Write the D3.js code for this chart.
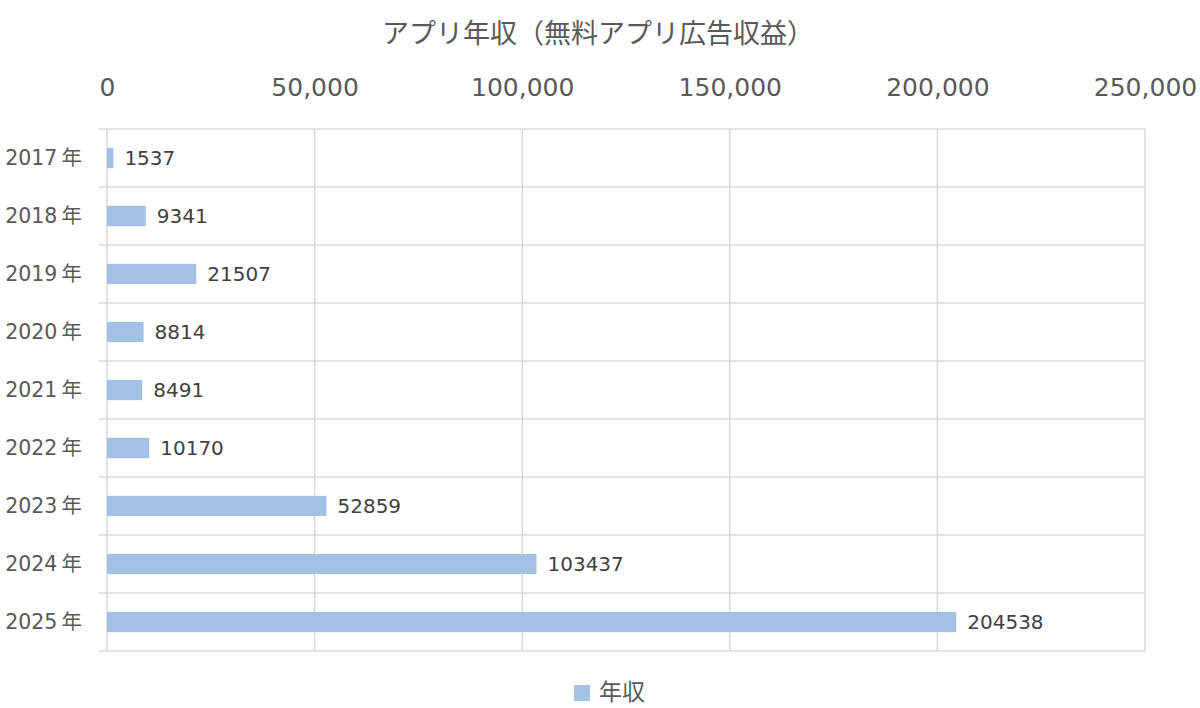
<!DOCTYPE html>
<html>
<head>
<meta charset="utf-8">
<script src="https://cdn.jsdelivr.net/npm/d3@7"></script>
<style>
  body { margin: 0; background: #fff; }
  text { font-family: "DejaVu Sans", "Noto Sans CJK JP", sans-serif; }
</style>
</head>
<body>
<svg id="svg"></svg>
<script>
'use strict';

// ================================= data ======================================
var years = ["2017年", "2018年", "2019年", "2020年", "2021年", "2022年", "2023年", "2024年", "2025年"];
var income = [1537, 9341, 21507, 8814, 8491, 10170, 52859, 103437, 204538];
var xTicks = [0, 50000, 100000, 150000, 200000, 250000];
var chartTitle = "アプリ年収（無料アプリ広告収益）";
var seriesName = "年収";

// ================================= layout ======================================
var width = 1200;
var height = 708;
var plot = { left: 107, right: 1145, top: 129, bottom: 651 };
var barColor = "#a3c1e4";
var gridColor = "#d9d9d9";

var svg = d3.select("#svg")
    .attr("width", width)
    .attr("height", height);

var x = d3.scaleLinear()
    .domain([0, 250000])
    .range([plot.left, plot.right]);

var y = d3.scaleBand()
    .domain(years)
    .range([plot.top, plot.bottom])
    .paddingInner(0.65)
    .paddingOuter(0.325);

// title
svg.append("text")
    .attr("x", 598)
    .attr("y", 43)
    .attr("text-anchor", "middle")
    .attr("fill", "#595959")
    .style("font-family", "'Noto Sans CJK JP', sans-serif")
    .style("font-size", "27px")
    .text(chartTitle);

// vertical grid
svg.append("g")
    .selectAll("line")
    .data(xTicks)
    .join("line")
    .attr("x1", d => x(d))
    .attr("x2", d => x(d))
    .attr("y1", plot.top)
    .attr("y2", plot.bottom)
    .attr("stroke", gridColor)
    .attr("stroke-width", 1.5);

// horizontal separators between categories (with small outside ticks)
var seps = d3.range(years.length + 1).map(i => plot.top + i * (plot.bottom - plot.top) / years.length);
svg.append("g")
    .selectAll("line")
    .data(seps)
    .join("line")
    .attr("x1", plot.left - 8)
    .attr("x2", plot.right)
    .attr("y1", d => d)
    .attr("y2", d => d)
    .attr("stroke", gridColor)
    .attr("stroke-width", 1.5);

// top axis labels
var xAxis = d3.axisTop(x)
    .tickValues(xTicks)
    .tickSize(0)
    .tickFormat(d3.format(","));

svg.append("g")
    .attr("transform", "translate(0,99)")
    .call(xAxis)
    .call(g => g.select(".domain").remove())
    .selectAll("text")
    .attr("fill", "#595959")
    .attr("dy", 0)
    .style("font-size", "25px");

// left category labels
var yAxis = d3.axisLeft(y)
    .tickSize(0)
    .tickPadding(0)
    .tickFormat(d => d.replace("年", "\u2009年"));
svg.append("g")
    .attr("transform", "translate(82,0)")
    .call(yAxis)
    .call(g => g.select(".domain").remove())
    .selectAll("text")
    .attr("fill", "#595959")
    .style("font-size", "20.5px");

// bars
svg.append("g")
    .selectAll("rect")
    .data(income)
    .join("rect")
    .attr("x", x(0))
    .attr("y", (d, i) => y(years[i]))
    .attr("width", d => x(d) - x(0))
    .attr("height", y.bandwidth())
    .attr("fill", barColor);

// value labels
svg.append("g")
    .selectAll("text")
    .data(income)
    .join("text")
    .attr("x", d => x(d) + 11)
    .attr("y", (d, i) => y(years[i]) + y.bandwidth() / 2)
    .attr("dy", "0.36em")
    .attr("fill", "#404040")
    .style("font-size", "20px")
    .text(d => d);

// legend
var legend = svg.append("g").attr("transform", "translate(574,685)");
legend.append("rect")
    .attr("width", 16)
    .attr("height", 16)
    .attr("fill", barColor);
legend.append("text")
    .attr("x", 25)
    .attr("y", 15)
    .attr("fill", "#595959")
    .style("font-family", "'Noto Sans CJK JP', sans-serif")
    .style("font-size", "23px")
    .text(seriesName);
</script>
</body>
</html>
